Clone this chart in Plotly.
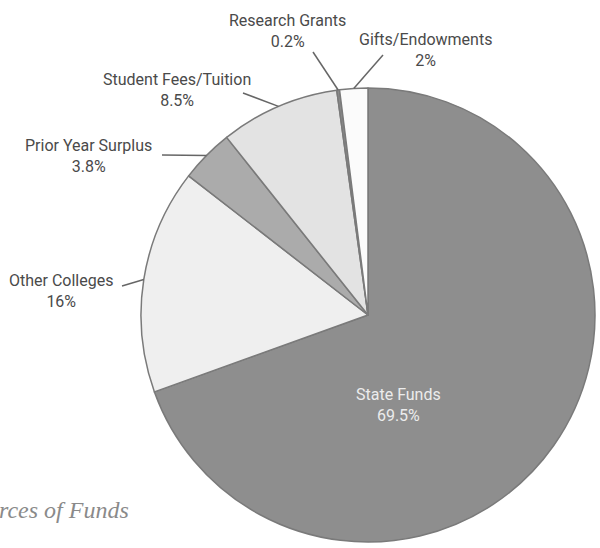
import math
import plotly.graph_objects as go

# ---- data ----
categories = ["State Funds", "Other Colleges", "Prior Year Surplus",
              "Student Fees/Tuition", "Research Grants", "Gifts/Endowments"]
values = [69.5, 16, 3.8, 8.5, 0.2, 2]
pct_labels = ["69.5%", "16%", "3.8%", "8.5%", "0.2%", "2%"]
colors = ["#8e8e8e", "#efefef", "#ababab", "#e3e3e3", "#8a8a8a", "#fbfbfb"]

W, H = 600, 548
CX, CY, R = 368, 315, 227    # pie centre / radius in px (layout)

def px(x):
    return x / W

def py(y):
    return 1 - y / H

fig = go.Figure()
fig.add_trace(go.Pie(
    labels=categories, values=values, sort=False, direction="clockwise",
    rotation=0, textinfo="none", hoverinfo="label+percent",
    marker=dict(colors=colors, line=dict(color="#7a7a7a", width=1.5)),
    domain=dict(x=[px(CX - R), px(CX + R)],
                y=[py(CY + R), py(CY - R)]),
    showlegend=False,
))

label_font = dict(family="Liberation Sans Narrow, Arial Narrow, Roboto, sans-serif",
                  size=16, color="#4a4a4a")

# label centre positions (layout) and leader tail points (layout)
label_pos = {
    "Other Colleges": (61, 291),
    "Prior Year Surplus": (88, 156),
    "Student Fees/Tuition": (177, 90),
    "Research Grants": (287, 31),
    "Gifts/Endowments": (425, 50),
}
leader_tail = {
    "Other Colleges": (122, 286),
    "Prior Year Surplus": (162, 155),
    "Student Fees/Tuition": (243, 93),
    "Research Grants": (313, 52),
    "Gifts/Endowments": (383, 55),
}

total = sum(values)
cum = 0.0
for cat, v, p in zip(categories, values, pct_labels):
    mid = (cum + v / 2) / total * 2 * math.pi
    cum += v
    if cat == "State Funds":
        fig.add_annotation(x=px(398), y=py(405), xref="paper", yref="paper",
                           xanchor="center", yanchor="middle",
                           text=f"{cat}<br>{p}", showarrow=False,
                           font=dict(family=label_font["family"], size=16, color="#ececec"))
        continue
    hx = CX + R * math.sin(mid)
    hy = CY - R * math.cos(mid)
    tx, ty = leader_tail[cat]
    fig.add_shape(type="line", xref="paper", yref="paper",
                  x0=px(tx), y0=py(ty), x1=px(hx), y1=py(hy),
                  line=dict(color="#666666", width=1.5))
    lx, ly = label_pos[cat]
    fig.add_annotation(x=px(lx), y=py(ly), xref="paper", yref="paper",
                       xanchor="center", yanchor="middle",
                       text=f"{cat}<br>{p}", showarrow=False, font=label_font)

fig.add_annotation(x=px(131), y=py(510), xref="paper", yref="paper",
                   xanchor="right", yanchor="middle",
                   text="<i>Sources of Funds</i>", showarrow=False,
                   font=dict(family="Liberation Serif, Times New Roman, serif",
                             size=24, color="#8a8a8a"))

fig.update_layout(width=W, height=H, margin=dict(l=0, r=0, t=0, b=0),
                  paper_bgcolor="white", plot_bgcolor="white")
fig.write_html("out.html", config={"displayModeBar": False},
               post_script="document.body.style.margin='0';")
